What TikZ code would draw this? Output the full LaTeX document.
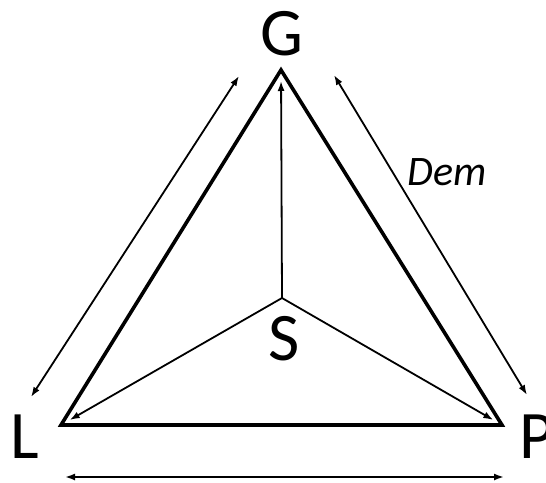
\documentclass[tikz,border=0pt]{standalone}
\usepackage{fontspec}
\setmainfont{Carlito}
\usetikzlibrary{arrows.meta}
\begin{document}
\begin{tikzpicture}[x=1pt,y=-1pt,
  lbl/.style={font=\fontsize{68}{68}\selectfont, inner sep=0pt, anchor=base},
  thinarrow/.style={line width=1.8pt, -{Latex[length=10pt,width=7pt]}},
  dblarrow/.style={line width=1.8pt, {Latex[length=10pt,width=7pt]}-{Latex[length=10pt,width=7pt]}},
  tri/.style={line width=3.6pt, line join=miter}]
\useasboundingbox (0,0) rectangle (546,482);
% vertices
\coordinate (G) at (281,70);
\coordinate (L) at (61,425);
\coordinate (P) at (502,425);
\coordinate (S) at (282,298);
% outer arrow end points
\coordinate (lt) at (239,76);
\coordinate (lb) at (31,397);
\coordinate (rt) at (334,75);
\coordinate (rb) at (527,395);
\coordinate (bl) at (65,477);
\coordinate (br) at (504,477);
% triangle
\draw[tri] (G) -- (L) -- (P) -- cycle;
% inner arrows
\draw[thinarrow, shorten >=11pt] (S) -- (G);
\draw[thinarrow, shorten >=10pt] (S) -- (L);
\draw[thinarrow, shorten >=10pt] (S) -- (P);
% outer arrows
\draw[dblarrow] (lt) -- (lb);
\draw[dblarrow] (rt) -- (rb);
\draw[dblarrow] (bl) -- (br);
% labels
\node[lbl] (gl) at (282,55) {G};
\node[lbl] (ll) at (25,458) {L};
\node[lbl] (pl) at (537,458) {P};
\node[lbl] (sl) at (284,360) {S};
\node[lbl, font=\fontsize{42}{42}\selectfont\itshape] (dem) at (447,185) {Dem};
\end{tikzpicture}
\end{document}
